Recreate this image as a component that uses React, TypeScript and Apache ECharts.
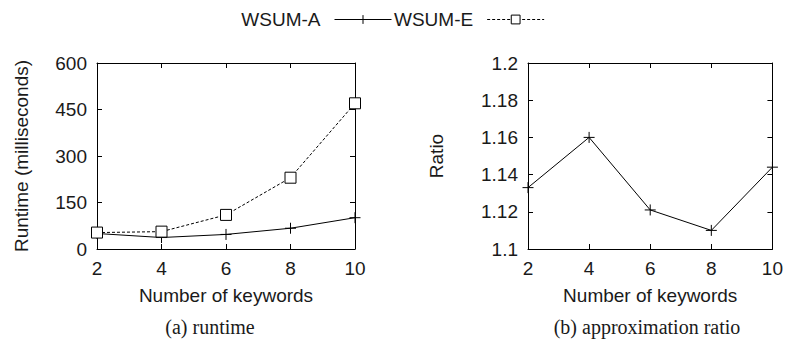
import React, { useEffect, useRef } from "react";
import * as echarts from "echarts";

const keywords = [2, 4, 6, 8, 10];
const wsumA = [50, 37, 47, 67, 101];
const wsumE = [53, 56, 110, 230, 470];
const ratioA = [1.133, 1.16, 1.121, 1.11, 1.144];
const runtimeTicks = [0, 600, 150];
const ratioTicks = [1.1, 1.2, 0.02];

const FONT = "Liberation Sans";
const TXT = "#1a1a1a";
const PLUS = "path://M0,5L10,5M5,0L5,10";
const SQUARE = "path://M0,0L10,0L10,10L0,10Z";

function axisX(gridIndex: number, top: boolean, name?: string): any {
  return {
    type: "value",
    gridIndex,
    position: top ? "top" : "bottom",
    min: 2,
    max: 10,
    interval: 2,
    name: name,
    nameLocation: "middle",
    nameGap: 37,
    nameTextStyle: { fontFamily: FONT, fontSize: 19, color: TXT },
    axisLine: { show: true, onZero: false, lineStyle: { color: "#000", width: 1 } },
    axisTick: { show: true, inside: true, length: 5, lineStyle: { color: "#000" } },
    axisLabel: { show: !top, margin: 10, fontFamily: FONT, fontSize: 19, color: TXT },
    splitLine: { show: false },
  };
}

function axisY(gridIndex: number, right: boolean, t: number[], name?: string, gap?: number): any {
  return {
    type: "value",
    gridIndex,
    position: right ? "right" : "left",
    min: t[0],
    max: t[1],
    interval: t[2],
    name: name,
    nameLocation: "middle",
    nameGap: gap,
    nameTextStyle: { fontFamily: FONT, fontSize: 19, color: TXT },
    axisLine: { show: true, lineStyle: { color: "#000", width: 1 } },
    axisTick: { show: true, inside: true, length: 5, lineStyle: { color: "#000" } },
    axisLabel: { show: !right, margin: 10, fontFamily: FONT, fontSize: 19, color: TXT },
    splitLine: { show: false },
  };
}

export default function App() {
  const ref = useRef<HTMLDivElement>(null);
  useEffect(() => {
    document.body.style.margin = "0";
    const chart = echarts.init(ref.current!, null, { renderer: "svg" });
    const pairs = (ys: number[]) => keywords.map((x, i) => [x, ys[i]]);
    chart.setOption({
      animation: false,
      backgroundColor: "#fff",
      textStyle: { fontFamily: FONT },
      legend: {
        top: 5,
        left: "center",
        align: "right",
        itemWidth: 57,
        itemHeight: 11,
        itemGap: 2,
        formatter: "{t|{name}}",
        textStyle: {
          fontFamily: FONT,
          fontSize: 19,
          color: TXT,
          rich: { t: { fontFamily: FONT, fontSize: 19, color: TXT, padding: [0, 9, 0, 0] } },
        },
        data: [
          { name: "WSUM-A", itemStyle: { borderWidth: 1 }, lineStyle: { width: 1 } },
          { name: "WSUM-E", itemStyle: { borderWidth: 1 }, lineStyle: { width: 1 } },
        ],
      },
      grid: [
        { left: 97, top: 63, width: 258, height: 186 },
        { left: 528, top: 63, width: 246, height: 186 },
      ],
      xAxis: [
        axisX(0, false, "Number of keywords"),
        axisX(1, false, "Number of keywords"),
        axisX(0, true),
        axisX(1, true),
      ],
      yAxis: [
        axisY(0, false, runtimeTicks, "Runtime (milliseconds)", 66),
        axisY(1, false, ratioTicks, "Ratio", 82),
        axisY(0, true, runtimeTicks),
        axisY(1, true, ratioTicks),
      ],
      series: [
        {
          name: "WSUM-A",
          type: "line",
          xAxisIndex: 0,
          yAxisIndex: 0,
          data: pairs(wsumA),
          symbol: PLUS,
          symbolSize: 11,
          lineStyle: { color: "#000", width: 1 },
          itemStyle: { color: "#000", borderColor: "#000", borderWidth: 1 },
        },
        {
          name: "WSUM-E",
          type: "line",
          xAxisIndex: 0,
          yAxisIndex: 0,
          data: pairs(wsumE),
          symbol: SQUARE,
          symbolSize: 11,
          lineStyle: { color: "#000", width: 1, type: [3, 2] },
          itemStyle: { color: "#fff", borderColor: "#000", borderWidth: 1 },
        },
        {
          name: "WSUM-A",
          type: "line",
          xAxisIndex: 1,
          yAxisIndex: 1,
          data: pairs(ratioA),
          symbol: PLUS,
          symbolSize: 11,
          lineStyle: { color: "#000", width: 1 },
          itemStyle: { color: "#000", borderColor: "#000", borderWidth: 1 },
        },
      ],
      graphic: [
        {
          type: "text",
          x: 210,
          y: 327,
          style: {
            text: "(a) runtime",
            fontFamily: "Liberation Serif",
            fontSize: 20,
            fill: TXT,
            align: "center",
            verticalAlign: "middle",
          },
        },
        {
          type: "text",
          x: 647,
          y: 327,
          style: {
            text: "(b) approximation ratio",
            fontFamily: "Liberation Serif",
            fontSize: 20,
            fill: TXT,
            align: "center",
            verticalAlign: "middle",
          },
        },
      ],
    });
    return () => chart.dispose();
  }, []);
  return <div ref={ref} style={{ width: 786, height: 343 }} />;
}
